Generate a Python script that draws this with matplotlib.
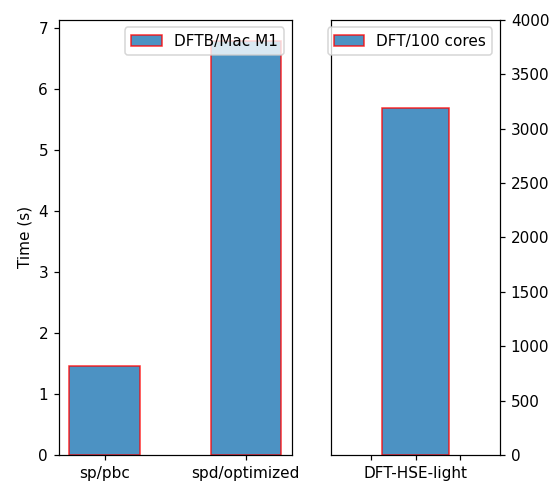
import matplotlib
matplotlib.use("Agg")
import matplotlib.pyplot as plt

# timings
dftb_labels = ["sp/pbc", "spd/optimized"]
dftb_times = [1.46, 6.8]
dft_labels = ["", "DFT-HSE-light", ""]
dft_times = [3190]

# reference looks rendered at a slightly higher dpi
fig = plt.figure(figsize=(560 / 110, 484 / 110), dpi=110)
ax1 = fig.add_axes([0.105, 0.06, 0.416, 0.899])
ax2 = fig.add_axes([0.591, 0.06, 0.302, 0.899])

ax1.bar(range(len(dftb_times)), dftb_times, width=0.5, alpha=0.8,
        edgecolor="red", label="DFTB/Mac M1")
ax1.set_xticks(range(len(dftb_labels)))
ax1.set_xticklabels(dftb_labels)
ax1.set_ylabel("Time (s)")
ax1.legend(loc="upper right")

ax2.bar([0], dft_times, width=0.5, alpha=0.8,
        edgecolor="red", label="DFT/100 cores")
ax2.set_xlim(-0.64, 0.64)
ax2.set_xticks([-0.34, 0, 0.34])
ax2.set_xticklabels(dft_labels)
ax2.set_ylim(0, 4000)
ax2.yaxis.tick_right()
ax2.legend(loc="upper right")

fig.savefig("out.png", dpi=110)
